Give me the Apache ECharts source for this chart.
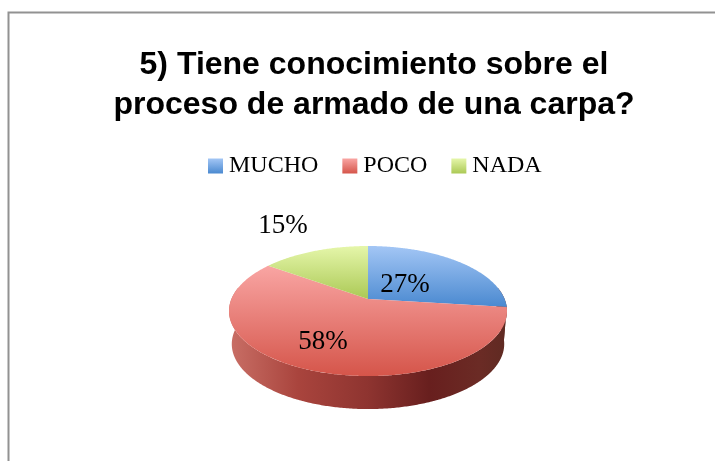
<!DOCTYPE html>
<html>
<head>
<meta charset="utf-8">
<style>
  html, body { margin: 0; padding: 0; background: #fff; }
  #chart { width: 715px; height: 461px; }
</style>
<script src="https://cdn.jsdelivr.net/npm/echarts@6/dist/echarts.min.js"></script>
</head>
<body>
<div id="chart"></div>
<script>
const categories = ['MUCHO', 'POCO', 'NADA']
const values = [27, 58, 15]
const titleText = '5) Tiene conocimiento sobre el\nproceso de armado de una carpa?'

// pie seen in perspective: apex, projection factors, thickness
const apex = [368, 299]
const scaleX = 136.6
const scaleY = 62.8
const persp = -0.185
const depth = 33
const bottomShrink = 0.98
const labelOffsets = [[37, -14], [-45, 43], [-85, -73]]

const vertical = (a, b) => new echarts.graphic.LinearGradient(0, 0, 0, 1, [
  { offset: 0, color: a },
  { offset: 1, color: b }
])
const faceColors = [
  ['#a3c6f5', '#4a89d0'],
  ['#f9a5a3', '#d5554a'],
  ['#e5f6aa', '#abc955']
]
const sideColors = new echarts.graphic.LinearGradient(229, 0, 507, 0, [
  { offset: 0, color: '#c96f66' },
  { offset: 0.25, color: '#a9443d' },
  { offset: 0.5, color: '#8e3430' },
  { offset: 0.72, color: '#681f1e' },
  { offset: 0.9, color: '#6b2b25' },
  { offset: 1, color: '#5f2a22' }
], true)

function project(angle) {
  const u = Math.sin(angle)
  const v = -Math.cos(angle)
  const d = 1 + persp * v
  return [apex[0] + scaleX * u / d, apex[1] + scaleY * v / d]
}

function arcPoints(from, to) {
  const pts = []
  const n = Math.max(2, Math.ceil((to - from) / 0.01))
  for (let i = 0; i <= n; i++) {
    pts.push(project(from + (to - from) * i / n))
  }
  return pts
}

const total = values.reduce((a, b) => a + b, 0)
function sliceAngles(i) {
  const before = values.slice(0, i).reduce((a, b) => a + b, 0)
  return [before / total * Math.PI * 2, (before + values[i]) / total * Math.PI * 2]
}

function renderSlice(params, api) {
  const i = params.seriesIndex
  const [from, to] = sliceAngles(i)
  const children = []
  // the wall only shows on the lower half of the rim
  const wallFrom = Math.max(from, Math.acos(-persp))
  const wallTo = Math.min(to, Math.PI * 2 - Math.acos(-persp))
  if (wallTo > wallFrom) {
    const top = arcPoints(wallFrom, wallTo)
    const bottom = top.map(p => [
      apex[0] + (p[0] - apex[0]) * bottomShrink,
      p[1] + depth
    ]).reverse()
    children.push({
      type: 'polygon',
      z2: 1,
      shape: { points: top.concat(bottom) },
      style: { fill: sideColors }
    })
  }
  children.push({
    type: 'polygon',
    z2: 2,
    shape: { points: [apex].concat(arcPoints(from, to)) },
    style: { fill: vertical(faceColors[i][0], faceColors[i][1]) }
  })
  children.push({
    type: 'text',
    z2: 3,
    style: {
      x: apex[0] + labelOffsets[i][0],
      y: apex[1] + labelOffsets[i][1],
      text: api.value(0) + '%',
      font: '27px "Liberation Serif"',
      fill: '#000',
      align: 'center',
      verticalAlign: 'middle'
    }
  })
  return { type: 'group', children: children }
}

const chart = echarts.init(document.getElementById('chart'), null, { renderer: 'canvas' })
chart.setOption({
  animation: false,
  backgroundColor: '#fff',
  title: {
    text: titleText,
    left: 369,
    top: 40,
    textAlign: 'center',
    textStyle: {
      fontFamily: 'Liberation Sans',
      fontWeight: 'bold',
      fontSize: 32,
      lineHeight: 40,
      color: '#000'
    }
  },
  legend: {
    left: 208,
    top: 154,
    padding: 0,
    itemWidth: 15,
    itemHeight: 15,
    itemGap: 24,
    itemStyle: { borderWidth: 0 },
    icon: 'rect',
    textStyle: { fontFamily: 'Liberation Serif', fontSize: 24, color: '#000', padding: [5, 0, 0, 1] },
    data: categories.map((name, i) => ({
      name: name,
      itemStyle: { color: vertical(faceColors[i][0], faceColors[i][1]) }
    }))
  },
  graphic: [
    { type: 'polyline', silent: true, shape: { points: [[8.5, 461], [8.5, 12.5], [715, 12.5]] }, style: { stroke: '#929292', lineWidth: 2, fill: null } }
  ],
  series: categories.map((name, i) => ({
    type: 'custom',
    name: name,
    coordinateSystem: 'none',
    silent: true,
    itemStyle: { color: faceColors[i][1] },
    renderItem: renderSlice,
    data: [[values[i]]]
  }))
})
</script>
</body>
</html>
